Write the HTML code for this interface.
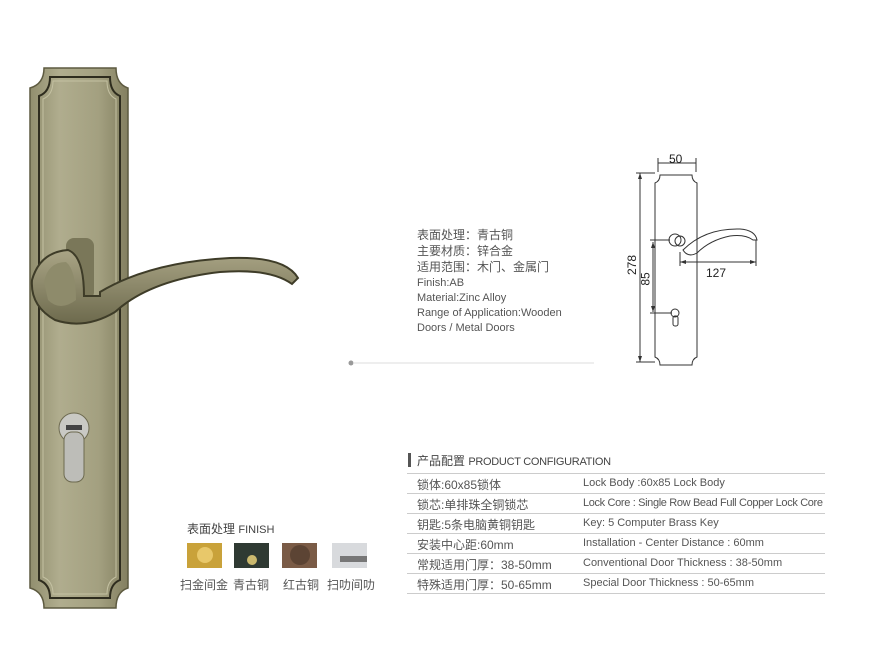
<!DOCTYPE html>
<html><head><meta charset="utf-8"><style>
body{margin:0;background:#fff;width:869px;height:660px;overflow:hidden;position:relative;font-family:"Liberation Sans","Noto Sans CJK SC",sans-serif;color:#555}
.t{position:absolute;white-space:nowrap;font-size:11px}
.c{font-size:12px}
.hl{position:absolute;left:407px;width:418px;height:1px;background:#ccc}
</style></head><body>
<svg width="869" height="660" style="position:absolute;left:0;top:0">
<defs>
<linearGradient id="g" x1="0" x2="1"><stop offset="0" stop-color="#918e6e"/><stop offset=".3" stop-color="#b0ad8e"/><stop offset=".7" stop-color="#a3a080"/><stop offset="1" stop-color="#837f60"/></linearGradient>
<linearGradient id="h" x1="0" x2="0" y1="0" y2="1"><stop offset="0" stop-color="#aaa586"/><stop offset="1" stop-color="#6d6a4d"/></linearGradient>
</defs>
<path d="M44,68 L116,68 Q116,84 128,88 L128,588 Q116,592 116,608 L44,608 Q44,592 30,588 L30,88 Q44,84 44,68 Z" fill="url(#g)" stroke="#5d5a40" stroke-width="1.5"/>
<path d="M50,77 L110,77 Q110,92 120,96 L120,580 Q110,584 110,598 L50,598 Q50,584 39,580 L39,96 Q50,92 50,77 Z" fill="none" stroke="#2e2c1e" stroke-width="2"/>
<path d="M53,81 L107,81 Q107,95 116,99 L116,577 Q107,581 107,594 L53,594 Q53,581 43,577 L43,99 Q53,95 53,81 Z" fill="none" stroke="#c4c1a2" stroke-width="1"/>
<rect x="66" y="238" width="28" height="62" rx="8" fill="#7a7759"/>
<path d="M100,292 Q150,262 230,258 Q285,256 298,278 L292,284 Q270,268 220,272 Q150,280 115,312 Q85,330 55,320 Q30,306 32,280 Q40,252 68,250 Q84,256 84,296 L100,296 Z" fill="url(#h)" stroke="#3e3c28" stroke-width="2"/>
<path d="M44,282 Q48,262 66,262 Q76,270 76,300 Q60,312 48,300 Z" fill="#8e8b6b"/>
<circle cx="74" cy="428" r="15" fill="#c9c9c4" stroke="#6d6a50"/>
<rect x="64" y="432" width="20" height="50" rx="8" fill="#bdbdb8" stroke="#6d6a50"/>
<rect x="66" y="425" width="16" height="5" fill="#444"/>
<circle cx="351" cy="363" r="2.5" fill="#999"/>
<line x1="353" y1="363" x2="594" y2="363" stroke="#ddd"/>
<g stroke="#333" fill="none" stroke-width="1">
<path d="M660,175 L692,175 Q692,181 697,183 L697,357 Q692,359 692,365 L660,365 Q660,359 655,357 L655,183 Q660,181 660,175 Z"/>
<line x1="658" y1="163" x2="696" y2="163"/><line x1="658" y1="158" x2="658" y2="172"/><line x1="696" y1="158" x2="696" y2="172"/>
<line x1="640" y1="173" x2="640" y2="362"/><line x1="636" y1="173" x2="655" y2="173"/><line x1="636" y1="362" x2="655" y2="362"/>
<line x1="653" y1="242" x2="653" y2="312"/><line x1="650" y1="240" x2="670" y2="240"/><line x1="650" y1="313" x2="672" y2="313"/>
<line x1="680" y1="262" x2="756" y2="262"/><line x1="680" y1="252" x2="680" y2="266"/><line x1="756" y1="240" x2="756" y2="266"/>
<circle cx="675" cy="240" r="6"/><circle cx="680" cy="241" r="5"/>
<path d="M683,250 Q705,228 740,229 Q755,230 757,240 L753,240 Q745,234 730,236 Q710,240 697,253 Q688,258 683,250 Z"/>
<circle cx="675" cy="313" r="4"/><rect x="673" y="316" width="5" height="10" rx="2"/>
</g>
<path d="M640,173 l-2,6 h4 z M640,362 l-2,-6 h4 z M653,242 l-2,6 h4z M653,312 l-2,-6 h4z M680,262 l6,-2 v4z M756,262 l-6,-2 v4z" fill="#333"/>
<rect x="408" y="453" width="3" height="14" fill="#555"/>
<rect x="187" y="543" width="35" height="25" fill="#c9a23a"/><rect x="234" y="543" width="35" height="25" fill="#2f3a33"/><rect x="282" y="543" width="35" height="25" fill="#7a5b46"/><rect x="332" y="543" width="35" height="25" fill="#d8dadd"/>
<circle cx="205" cy="555" r="8" fill="#e8c86a"/><circle cx="252" cy="560" r="5" fill="#cbb96e"/><circle cx="300" cy="555" r="10" fill="#5c4434"/><rect x="340" y="556" width="27" height="6" fill="#777"/>
</svg>
<div class="t c" style="left:417px;top:226px">表面处理：青古铜</div>
<div class="t c" style="left:417px;top:242px">主要材质：锌合金</div>
<div class="t c" style="left:417px;top:258px">适用范围：木门、金属门</div>
<div class="t" style="left:417px;top:277px">Finish:AB</div>
<div class="t" style="left:417px;top:292px">Material:Zinc Alloy</div>
<div class="t" style="left:417px;top:307px">Range of Application:Wooden</div>
<div class="t" style="left:417px;top:322px">Doors / Metal Doors</div>
<div class="t" style="left:669px;top:152px;font-size:12px;color:#222">50</div>
<div class="t" style="left:622px;top:258px;font-size:12px;color:#222;transform:rotate(-90deg)">278</div>
<div class="t" style="left:639px;top:272px;font-size:12px;color:#222;transform:rotate(-90deg)">85</div>
<div class="t" style="left:706px;top:266px;font-size:12px;color:#222">127</div>
<div class="t c" style="left:417px;top:452px;color:#444">产品配置 <span style="font-size:11px;letter-spacing:-.3px">PRODUCT CONFIGURATION</span></div>
<div class="hl" style="top:473px"></div><div class="hl" style="top:493px"></div><div class="hl" style="top:513px"></div><div class="hl" style="top:533px"></div><div class="hl" style="top:553px"></div><div class="hl" style="top:573px"></div><div class="hl" style="top:593px"></div>
<div class="t c" style="left:417px;top:476px">锁体:60x85锁体</div><div class="t" style="left:583px;top:477px">Lock Body :60x85 Lock Body</div>
<div class="t c" style="left:417px;top:496px">锁芯:单排珠全铜锁芯</div><div class="t" style="left:583px;top:497px;letter-spacing:-.35px">Lock Core : Single Row Bead Full Copper Lock Core</div>
<div class="t c" style="left:417px;top:516px">钥匙:5条电脑黄铜钥匙</div><div class="t" style="left:583px;top:517px">Key: 5 Computer Brass Key</div>
<div class="t c" style="left:417px;top:536px">安装中心距:60mm</div><div class="t" style="left:583px;top:537px">Installation - Center Distance : 60mm</div>
<div class="t c" style="left:417px;top:556px">常规适用门厚：38-50mm</div><div class="t" style="left:583px;top:557px">Conventional Door Thickness : 38-50mm</div>
<div class="t c" style="left:417px;top:576px">特殊适用门厚：50-65mm</div><div class="t" style="left:583px;top:577px">Special Door Thickness : 50-65mm</div>
<div class="t c" style="left:187px;top:520px;color:#444">表面处理 <span style="font-size:11px">FINISH</span></div>
<div class="t c" style="left:180px;top:576px">扫金间金</div><div class="t c" style="left:233px;top:576px">青古铜</div><div class="t c" style="left:283px;top:576px">红古铜</div><div class="t c" style="left:327px;top:576px">扫叻间叻</div>
</body></html>
